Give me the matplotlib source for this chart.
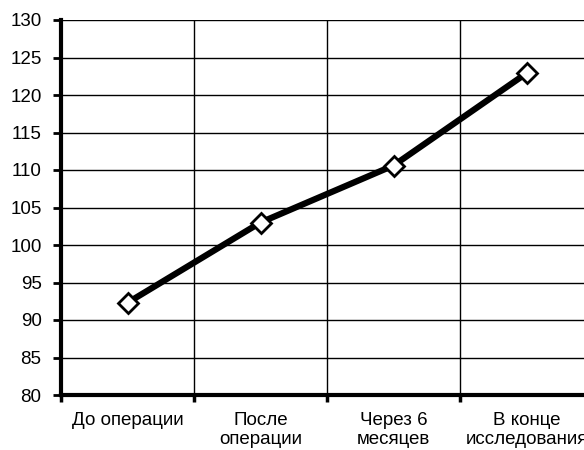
import numpy as np
import matplotlib.pyplot as plt

plt.rcParams['font.family'] = ['Liberation Sans', 'DejaVu Sans']

categories = ["До операции", "После\nоперации", "Через 6\nмесяцев", "В конце\nисследования"]
values = [92.3, 103.0, 110.6, 122.9]
yticks = [80, 85, 90, 95, 100, 105, 110, 115, 120, 125, 130]

fig = plt.figure(figsize=(5.84, 4.5), dpi=100)
# plot area runs past the right edge of the picture, as in the original
ax = fig.add_axes([61/584, 1-395/450, 532/584, 375/450])

x = np.arange(len(categories))
ax.plot(x, values, color='black', linewidth=4.5, marker='D', markersize=10,
        markerfacecolor='white', markeredgecolor='black', markeredgewidth=2, zorder=5)

ax.set_xlim(-0.5, len(categories) - 0.5)
ax.set_ylim(80, 130)
ax.set_yticks(yticks)
ax.set_yticklabels([str(v) for v in yticks], fontsize=13.5)

# boundaries between categories carry ticks and gridlines, labels sit at centres
ax.set_xticks(np.arange(len(categories) + 1) - 0.5)
ax.set_xticklabels([])
ax.set_xticks(x, minor=True)
ax.set_xticklabels(categories, minor=True, fontsize=13.5, linespacing=1.2)
ax.tick_params(axis='x', which='minor', length=0, pad=12)
ax.tick_params(axis='x', which='major', length=5, width=2.5, direction='out')
ax.tick_params(axis='y', length=6, width=2, direction='out', pad=8)

ax.grid(True, which='major', color='black', linewidth=1)
ax.set_axisbelow(True)

for s in ['top', 'right']:
    ax.spines[s].set_visible(False)
ax.spines['left'].set_linewidth(3)
ax.spines['bottom'].set_linewidth(3)

fig.savefig('out.png', dpi=100)
